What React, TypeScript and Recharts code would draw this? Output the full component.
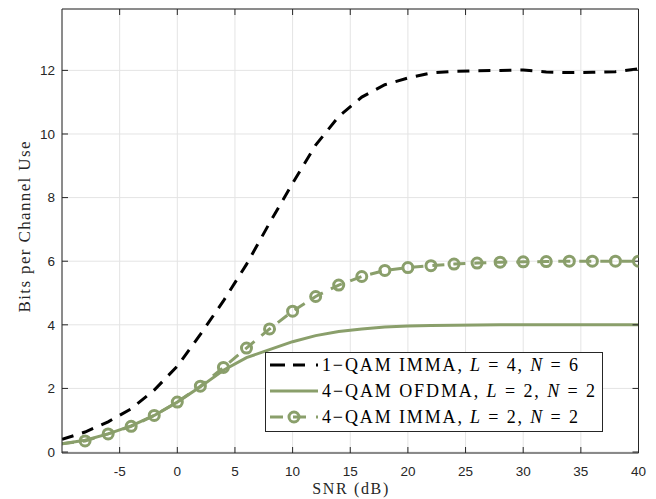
import React from 'react';
import { LineChart, Line, XAxis, YAxis, CartesianGrid } from 'recharts';

const snr = [-10, -8, -6, -4, -2, 0, 2, 4, 6, 8, 10, 12, 14, 16, 18, 20, 22, 24, 26, 28, 30, 32, 34, 36, 38, 40];
const imma1QamL4N6 = [0.4, 0.63, 0.95, 1.36, 1.95, 2.7, 3.7, 4.75, 5.9, 7.2, 8.45, 9.65, 10.55, 11.16, 11.55, 11.76, 11.92, 11.97, 11.99, 12.0, 12.01, 11.95, 11.93, 11.94, 11.96, 12.05];
const ofdma4QamL2N2 = [0.26, 0.37, 0.57, 0.82, 1.15, 1.57, 2.05, 2.57, 2.97, 3.22, 3.47, 3.66, 3.79, 3.87, 3.93, 3.96, 3.98, 3.99, 3.995, 4.0, 4.0, 4.0, 4.0, 4.0, 4.0, 4.0];
const imma4QamL2N2 = [0.26, 0.35, 0.57, 0.81, 1.15, 1.57, 2.07, 2.66, 3.27, 3.87, 4.43, 4.89, 5.25, 5.52, 5.71, 5.8, 5.86, 5.91, 5.94, 5.97, 5.98, 5.99, 6.0, 6.0, 6.0, 6.0];

const xTicks = [-5, 0, 5, 10, 15, 20, 25, 30, 35, 40];
const yTicks = [0, 2, 4, 6, 8, 10, 12];

const legendLabels = [
  { head: '1\u2212QAM IMMA, ', L: '4', N: '6' },
  { head: '4\u2212QAM OFDMA, ', L: '2', N: '2' },
  { head: '4\u2212QAM IMMA, ', L: '2', N: '2' },
];

const data = snr.map((s, i) => ({
  snr: s,
  a: imma1QamL4N6[i],
  b: ofdma4QamL2N2[i],
  c: imma4QamL2N2[i],
}));

const GREEN = '#8a9f6b';
const AXIS = '#262626';
const tickStyle = { fontFamily: "'Liberation Sans', Arial, sans-serif", fontSize: 13.5, fill: AXIS };
const serifStyle = { fontFamily: "'Liberation Serif', 'Times New Roman', serif" };

const renderDot = (props: any) => {
  const { cx, cy, payload, index } = props;
  if (payload.snr === -10) return <g key={`d${index}`} />;
  return <circle key={`d${index}`} cx={cx} cy={cy} r={5} fill="none" stroke={GREEN} strokeWidth={3} />;
};

export default function App() {
  const legendTextLen = [256, 273, 256];
  const rowBase = [371, 397, 423];
  const rowMid = [365, 391, 417];
  return (
    <div style={{ position: 'absolute', left: 0, top: 0, width: 656, height: 499, background: '#fff' }}>
      <LineChart width={656} height={499} data={data} margin={{ top: 8, right: 7.5, bottom: 16, left: 0 }}>
        <CartesianGrid xAxisId="b" yAxisId="l" stroke="#e4e4e4" strokeWidth={1} />
        <XAxis
          xAxisId="b"
          dataKey="snr"
          type="number"
          domain={[-10, 40]}
          ticks={xTicks}
          allowDataOverflow
          height={30}
          tickSize={-6}
          tickMargin={19}
          tick={tickStyle}
          axisLine={{ stroke: AXIS }}
          tickLine={{ stroke: AXIS }}
          label={{
            content: (p: any) => {
              const vb = p.viewBox;
              return (
                <text x={vb.x + vb.width / 2} y={494} textAnchor="middle" style={serifStyle} fontSize={16} fill={AXIS} textLength={76} lengthAdjust="spacing">
                  SNR (dB)
                </text>
              );
            },
          }}
        />
        <XAxis
          xAxisId="t"
          orientation="top"
          dataKey="snr"
          type="number"
          domain={[-10, 40]}
          ticks={xTicks}
          allowDataOverflow
          height={1}
          tickSize={-6}
          tickFormatter={() => ''}
          axisLine={{ stroke: AXIS }}
          tickLine={{ stroke: AXIS }}
        />
        <YAxis
          yAxisId="l"
          type="number"
          domain={[-0.03, 13.93]}
          ticks={yTicks}
          allowDataOverflow
          width={62}
          tickSize={-6}
          tickMargin={13}
          tick={tickStyle}
          axisLine={{ stroke: AXIS }}
          tickLine={{ stroke: AXIS }}
          label={{
            content: () => {
              const cy = 227;
              return (
                <text x={30} y={cy} transform={`rotate(-90, 30, ${cy})`} textAnchor="middle" style={serifStyle} fontSize={17} fill={AXIS} textLength={171} lengthAdjust="spacing">
                  Bits per Channel Use
                </text>
              );
            },
          }}
        />
        <YAxis
          yAxisId="r"
          orientation="right"
          type="number"
          domain={[-0.03, 13.93]}
          ticks={yTicks}
          allowDataOverflow
          width={10}
          tickSize={-6}
          tickFormatter={() => ''}
          axisLine={{ stroke: AXIS }}
          tickLine={{ stroke: AXIS }}
        />
        <Line xAxisId="b" yAxisId="l" type="linear" dataKey="a" stroke="#000" strokeWidth={3} strokeDasharray="12 9" dot={false} isAnimationActive={false} />
        <Line xAxisId="b" yAxisId="l" type="linear" dataKey="b" stroke={GREEN} strokeWidth={3} dot={false} isAnimationActive={false} />
        <Line xAxisId="b" yAxisId="l" type="linear" dataKey="c" stroke={GREEN} strokeWidth={3} strokeDasharray="12 9" dot={renderDot} isAnimationActive={false} />
      </LineChart>
      <svg width={656} height={499} style={{ position: 'absolute', left: 0, top: 0, pointerEvents: 'none' }}>
        <rect x={265.5} y={352.5} width={337} height={79} fill="#fff" stroke={AXIS} strokeWidth={1} />
        <line x1={270} y1={rowMid[0]} x2={318} y2={rowMid[0]} stroke="#000" strokeWidth={3} strokeDasharray="15 8 12 11" />
        <line x1={270} y1={rowMid[1]} x2={318} y2={rowMid[1]} stroke={GREEN} strokeWidth={3} />
        <line x1={270} y1={rowMid[2]} x2={318} y2={rowMid[2]} stroke={GREEN} strokeWidth={3} strokeDasharray="13 10 13 10" />
        <circle cx={294} cy={rowMid[2]} r={5} fill="none" stroke={GREEN} strokeWidth={3} />
        {legendLabels.map((lab, i) => (
          <text key={i} x={322} y={rowBase[i]} style={serifStyle} fontSize={18} fill="#000" textLength={legendTextLen[i]} lengthAdjust="spacing">
            {lab.head}
            <tspan fontStyle="italic">L</tspan>
            {' = ' + lab.L + ', '}
            <tspan fontStyle="italic">N</tspan>
            {' = ' + lab.N}
          </text>
        ))}
      </svg>
    </div>
  );
}
